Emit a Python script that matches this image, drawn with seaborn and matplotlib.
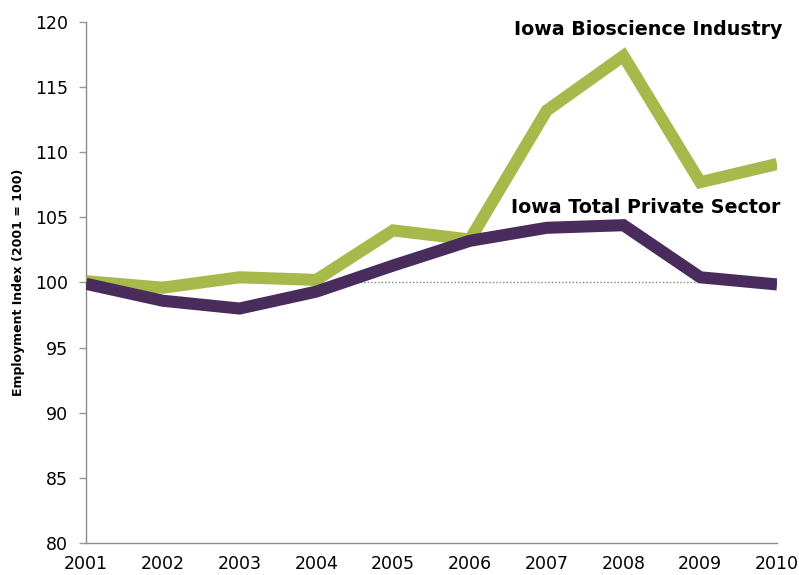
import matplotlib
matplotlib.use("Agg")
import matplotlib.pyplot as plt
import numpy as np
import pandas as pd
import seaborn as sns

# values
years = [2001, 2002, 2003, 2004, 2005, 2006, 2007, 2008, 2009, 2010]
bioscience = [100.1, 99.6, 100.4, 100.2, 104.0, 103.3, 113.2, 117.4, 107.7, 109.1]
private_sector = [99.9, 98.6, 98.0, 99.3, 101.3, 103.2, 104.2, 104.4, 100.4, 99.85]
yticks = [80, 85, 90, 95, 100, 105, 110, 115, 120]

green = "#a6b94a"
purple = "#4a2c5c"

df = pd.DataFrame({
    "Year": years * 2,
    "Index": bioscience + private_sector,
    "Series": ["Iowa Bioscience Industry"] * len(years) + ["Iowa Total Private Sector"] * len(years),
})

sns.set_style("white")
plt.rcParams["font.family"] = ["DejaVu Sans"]

fig = plt.figure(figsize=(7.99, 5.75), dpi=100)
ax = fig.add_axes([0.1076, 0.0557, 0.8649, 0.906])

# reference line at 100
ax.axhline(100, color="#8a7f7a", linestyle=(0, (1, 1.5)), linewidth=1.0, zorder=1)

sns.lineplot(data=df, x="Year", y="Index", hue="Series",
             palette={"Iowa Bioscience Industry": green, "Iowa Total Private Sector": purple},
             linewidth=8.7, legend=False, ax=ax, zorder=3)
for ln in ax.get_lines()[1:]:
    ln.set_solid_joinstyle("miter")
    ln.set_solid_capstyle("butt")

ax.set_xlim(years[0], years[-1])
ax.set_ylim(80, 120)
ax.set_yticks(yticks)
ax.set_xticks(years)
ax.set_xticklabels([str(y) for y in years])

ax.tick_params(axis="y", length=5, width=1, color="#999999", pad=8, labelsize=12.5,
               labelcolor="black", direction="out", left=True)
ax.tick_params(axis="x", length=0, pad=9, labelsize=12.5, labelcolor="black")

for s in ["top", "right"]:
    ax.spines[s].set_visible(False)
for s in ["left", "bottom"]:
    ax.spines[s].set_color("#8c8c8c")
    ax.spines[s].set_linewidth(1.0)

ax.set_xlabel("")
ax.set_ylabel("Employment Index (2001 = 100)", fontsize=9, fontweight="bold", labelpad=7, color="black")

ax.text(2010.07, 119.4, "Iowa Bioscience Industry", ha="right", va="center",
        fontsize=13.7, fontweight="bold", color="black")
ax.text(2010.05, 105.75, "Iowa Total Private Sector", ha="right", va="center",
        fontsize=13.7, fontweight="bold", color="black")

fig.savefig("out.png", dpi=100)
